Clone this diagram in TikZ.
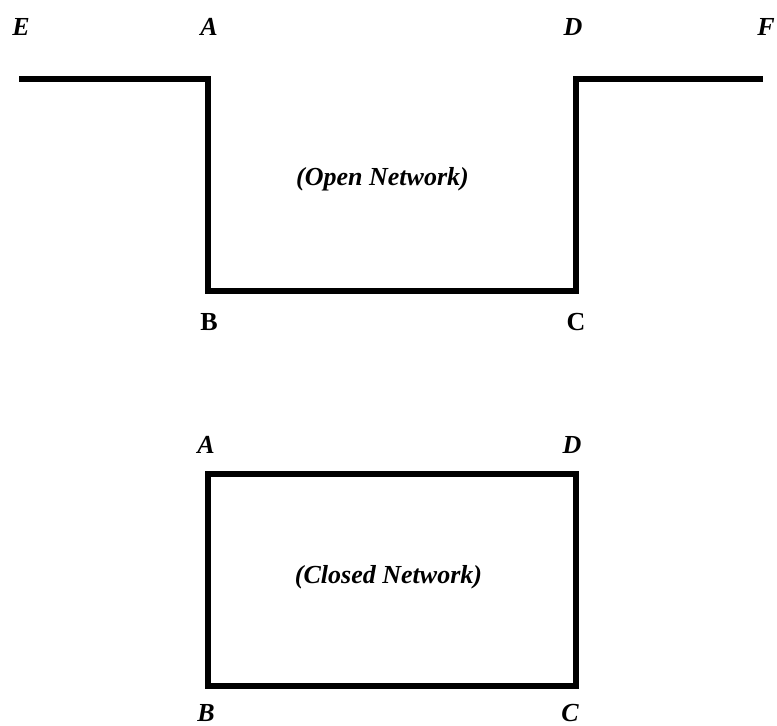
\documentclass[tikz,border=0pt]{standalone}
\usepackage{fontspec}
\setmainfont{Liberation Serif}
\begin{document}
\begin{tikzpicture}[x=1pt,y=-1pt,
  wire/.style={line width=6pt,line join=miter,line cap=butt},
  vlabel/.style={anchor=base,inner sep=0pt,font=\fontsize{26}{30}\selectfont\bfseries\itshape},
  ulabel/.style={anchor=base,inner sep=0pt,font=\fontsize{26}{30}\selectfont\bfseries},
  caption/.style={anchor=base,inner sep=0pt,font=\fontsize{26}{30}\selectfont\bfseries\itshape}]
\useasboundingbox (0,0) rectangle (777,726);

% open network: corner points
\coordinate (oE) at (19,78.5);
\coordinate (oA) at (208,78.5);
\coordinate (oB) at (208,290.5);
\coordinate (oC) at (576,290.5);
\coordinate (oD) at (576,78.5);
\coordinate (oF) at (763,78.5);
\draw[wire] (oE) -- (oA) -- (oB) -- (oC) -- (oD) -- (oF);

\node[vlabel] (lE) at (21,35) {E};
\node[vlabel] (lA) at (209,35) {A};
\node[vlabel] (lD) at (573,35) {D};
\node[vlabel] (lF) at (766,35) {F};
\node[ulabel] (lB) at (209,330) {B};
\node[ulabel] (lC) at (576,330) {C};
\node[caption] (open) at (382.5,185) {(Open Network)};

% closed network
\coordinate (cA) at (208,474);
\coordinate (cB) at (208,686);
\coordinate (cC) at (576,686);
\coordinate (cD) at (576,474);
\draw[wire] (cA) -- (cB) -- (cC) -- (cD) -- cycle;

\node[vlabel] (kA) at (206,453) {A};
\node[vlabel] (kD) at (572,453) {D};
\node[vlabel] (kB) at (206,721) {B};
\node[vlabel] (kC) at (570,721) {C};
\node[caption] (closed) at (388.5,583) {(Closed Network)};
\end{tikzpicture}
\end{document}
